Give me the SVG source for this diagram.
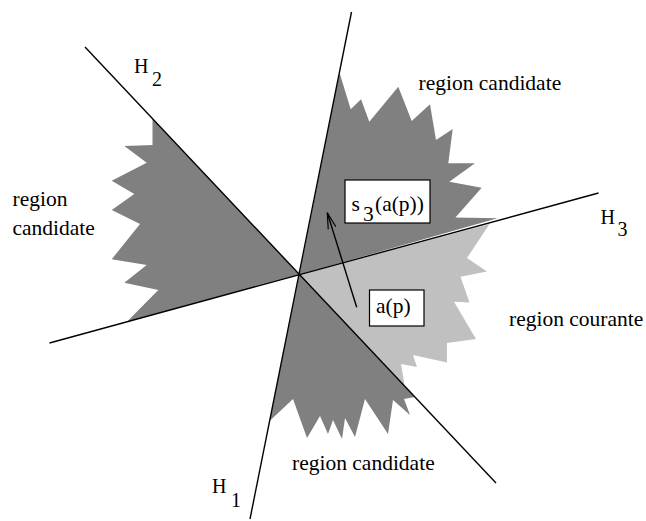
<svg xmlns="http://www.w3.org/2000/svg" width="646" height="521" viewBox="0 0 646 521">
<style>
.dark{fill:#808080;stroke:none}
.light{fill:#c0c0c0;stroke:none}
.ln{stroke:#000;stroke-width:1.4;fill:none}
.box{fill:#fff;stroke:#000;stroke-width:1.2}
.t{font-family:'Liberation Serif','Tinos','Times New Roman',Times,'DejaVu Serif',serif;font-size:21.5px;fill:#000}
.h{font-size:20px}
</style>
<defs>
<marker id="openhead" markerUnits="userSpaceOnUse" markerWidth="20" markerHeight="12" refX="0" refY="0" viewBox="-18 -6 20 12" orient="auto">
<path d="M-16,-4 L0,0 L-16,4" fill="none" stroke="#000" stroke-width="1.2"/>
</marker>
</defs>
<rect width="646" height="521" fill="#fff"/>
<g id="region-left">
<polygon class="dark" points="299.5,274.5 152.5,118.6 152.5,145 124.3,146 146.7,162.7 111.7,180.7 134.3,194 111.7,210 140,224 111.7,259.3 146.7,265 124.3,282.7 158.3,290 126.7,322 299.5,274.7"/>
</g>
<g id="region-top">
<polygon class="dark" points="299.5,274.5 339.6,73 350.7,109.3 361,99.3 369.3,121.7 398.3,86.7 411.7,121 430,104.3 436,140 452.7,129 448.3,163.3 475,163.3 449.3,181.7 481.7,187.7 455.4,217.5 497.5,218.3 299.5,274.5"/>
</g>
<g id="region-courante">
<polygon class="light" points="299.5,274.7 489.5,224 467,258 487,271.5 460.5,276.7 469.5,302.5 454,301.7 476,339 447,343 447,362.5 413,355 417,367 401,364 404.5,385 299.5,274.5"/>
</g>
<g id="region-bottom">
<polygon class="dark" points="299.5,274.5 415,397 404,399 410,415 393,400 388,434 365,399 355,437 345,418 342,439 333,420 328,434 320,416 307,438 293,399 269.6,421"/>
</g>
<g id="connectors">
<line id="H1-line" class="ln" x1="351.5" y1="12" x2="250" y2="519"/>
<line id="H2-line" class="ln" x1="85" y1="47" x2="496" y2="483"/>
<line id="H3-line" class="ln" x1="49.5" y1="343" x2="598.5" y2="193"/>
<line id="arrow" class="ln" stroke-width="1.2" x1="356.7" y1="307.3" x2="327.3" y2="212.7" marker-end="url(#openhead)"/>
</g>
<g id="label-H1" class="t h" font-family="Liberation Serif, serif">
<text x="212" y="493">H</text>
<text x="231" y="507">1</text>
</g>
<g id="label-H2" class="t h" font-family="Liberation Serif, serif">
<text x="134" y="73">H</text>
<text x="152" y="86">2</text>
</g>
<g id="label-H3" class="t h" font-family="Liberation Serif, serif">
<text x="600.5" y="224">H</text>
<text x="617.5" y="236">3</text>
</g>
<g id="label-left" class="t" font-family="Liberation Serif, serif">
<text x="12.5" y="206">region</text>
<text x="12.5" y="235">candidate</text>
</g>
<g id="label-top" class="t" font-family="Liberation Serif, serif">
<text x="418.5" y="90">region candidate</text>
</g>
<g id="label-courante" class="t" font-family="Liberation Serif, serif">
<text x="509" y="326">region courante</text>
</g>
<g id="label-bottom" class="t" font-family="Liberation Serif, serif">
<text x="292" y="470">region candidate</text>
</g>
<g id="node-s3">
<rect class="box" x="345" y="180" width="85" height="43"/>
<g class="t" font-family="Liberation Serif, serif">
<text x="351.5" y="211">s</text>
<text x="363" y="221">3</text>
<text x="375" y="211">(a(p))</text>
</g>
</g>
<g id="node-ap">
<rect class="box" x="369.5" y="290" width="54.5" height="36"/>
<text class="t" font-family="Liberation Serif, serif" x="376" y="313">a(p)</text>
</g>
</svg>
